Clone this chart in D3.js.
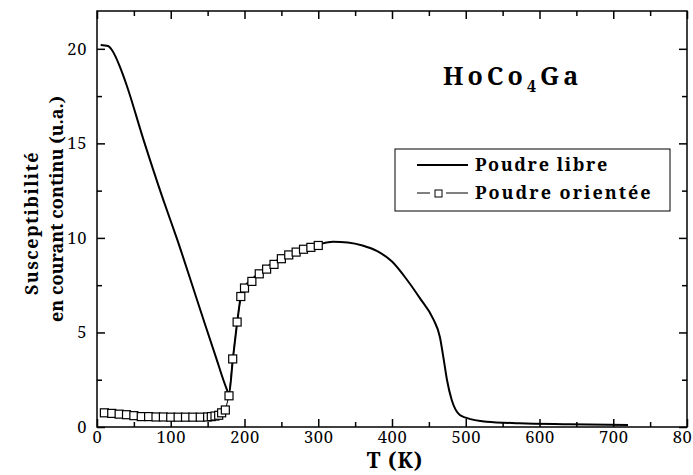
<!DOCTYPE html>
<html><head><meta charset="utf-8">
<script src="https://cdn.jsdelivr.net/npm/d3@7"></script>
<style>body{margin:0;background:#fff}svg{display:block}text{font-family:"Noto Serif",serif}</style>
</head><body>
<svg id="chart" width="693" height="475"></svg>
<script>
// ---- data ----
const libreT = [5,15,20,25,30,35,40,63,90,108,140,162,175,179,184,190,195,200,210,220,230,240,250,260,270,280,290,300,320,340,360,380,400,420,438,456,465,470,474.5,481,492,501,528,573,641,720];
const libreY = [20.2,20.15,19.95,19.6,19.15,18.65,18.1,15.2,12.0,10.0,6.2,3.6,2.1,1.75,3.5,5.5,6.9,7.4,7.8,8.15,8.45,8.7,8.95,9.15,9.3,9.45,9.55,9.65,9.8,9.76,9.6,9.3,8.75,7.8,6.8,5.7,4.75,3.6,2.5,1.43,0.63,0.48,0.28,0.2,0.15,0.1];
const orientT = [10,20,30,40,50,60,70,80,90,100,110,120,130,140,150,155,160,165,169,174,179,184,190,195,200,210,220,230,240,250,260,270,280,290,300];
const orientY = [0.75,0.72,0.68,0.65,0.6,0.55,0.55,0.53,0.53,0.52,0.52,0.52,0.52,0.52,0.53,0.55,0.58,0.62,0.75,0.9,1.65,3.6,5.55,6.9,7.35,7.7,8.1,8.35,8.6,8.9,9.1,9.25,9.4,9.5,9.6];
const xTicks = [0,100,200,300,400,500,600,700,800];
const xMinor = [50,150,250,350,450,550,650,750];
const yTicks = [0,5,10,15,20];
const yMinor = [2.5,7.5,12.5,17.5];
const seriesNames = ["Poudre libre","Poudre orientée"];
const yTitleLines = ["Susceptibilité","en courant continu (u.a.)"];

const FONT = "Noto Serif";
const svg = d3.select("#chart");
const x = d3.scaleLinear().domain([0,800]).range([97,687]);
const y = d3.scaleLinear().domain([0,22]).range([427,11]);
const FS = 16.5, LS = "0.6px";

function styleAxis(g){
  g.attr("font-family",null);
  g.select(".domain").remove();
  g.selectAll("line").attr("stroke","#000").attr("stroke-width",1.5);
  g.selectAll("text").attr("font-size",FS).attr("letter-spacing",LS).attr("fill","#000").style("font-family",FONT);
}
// bottom
svg.append("g").attr("transform",`translate(0,${y(0)})`)
  .call(d3.axisBottom(x).tickValues(xTicks).tickSize(-8).tickPadding(4).tickFormat(d3.format("d"))).call(styleAxis);
svg.append("g").attr("transform",`translate(0,${y(0)})`)
  .call(d3.axisBottom(x).tickValues(xMinor).tickSize(-5).tickFormat("")).call(styleAxis);
// top
svg.append("g").attr("transform",`translate(0,${y(22)})`)
  .call(d3.axisTop(x).tickValues(xTicks).tickSize(-8).tickFormat("")).call(styleAxis);
svg.append("g").attr("transform",`translate(0,${y(22)})`)
  .call(d3.axisTop(x).tickValues(xMinor).tickSize(-5).tickFormat("")).call(styleAxis);
// left
svg.append("g").attr("transform",`translate(${x(0)},0)`)
  .call(d3.axisLeft(y).tickValues(yTicks).tickSize(-8).tickPadding(10).tickFormat(d3.format("d"))).call(styleAxis);
svg.append("g").attr("transform",`translate(${x(0)},0)`)
  .call(d3.axisLeft(y).tickValues(yMinor).tickSize(-5).tickFormat("")).call(styleAxis);
// right
svg.append("g").attr("transform",`translate(${x(800)},0)`)
  .call(d3.axisRight(y).tickValues(yTicks).tickSize(-8).tickFormat("")).call(styleAxis);
svg.append("g").attr("transform",`translate(${x(800)},0)`)
  .call(d3.axisRight(y).tickValues(yMinor).tickSize(-5).tickFormat("")).call(styleAxis);
// frame
svg.append("rect").attr("x",x(0)).attr("y",y(22)).attr("width",x(800)-x(0)).attr("height",y(0)-y(22))
  .attr("fill","none").attr("stroke","#000").attr("stroke-width",1.5);

// lines
const libre = libreT.map((t,i)=>[t,libreY[i]]);
const orient = orientT.map((t,i)=>[t,orientY[i]]);
const line = d3.line().x(d=>x(d[0])).y(d=>y(d[1])).curve(d3.curveMonotoneX);
svg.append("path").datum(libre).attr("d",line).attr("fill","none").attr("stroke","#000").attr("stroke-width",2);
svg.append("path").datum(orient).attr("d",d3.line().x(d=>x(d[0])).y(d=>y(d[1]))).attr("fill","none").attr("stroke","#000").attr("stroke-width",1);
const S = 8;
svg.append("g").selectAll("rect").data(orient).join("rect")
  .attr("x",d=>x(d[0])-S/2).attr("y",d=>y(d[1])-S/2).attr("width",S).attr("height",S)
  .attr("fill","#fff").attr("stroke","#000").attr("stroke-width",1.2);

// legend
svg.append("rect").attr("x",395).attr("y",149).attr("width",275).attr("height",62)
  .attr("fill","#fff").attr("stroke","#000").attr("stroke-width",1);
svg.append("line").attr("x1",417).attr("x2",468).attr("y1",165).attr("y2",165).attr("stroke","#000").attr("stroke-width",2);
svg.append("line").attr("x1",417).attr("x2",430).attr("y1",193).attr("y2",193).attr("stroke","#000").attr("stroke-width",1);
svg.append("line").attr("x1",446).attr("x2",468).attr("y1",193).attr("y2",193).attr("stroke","#000").attr("stroke-width",1);
svg.append("rect").attr("x",435).attr("y",190).attr("width",7).attr("height",7).attr("fill","#fff").attr("stroke","#000").attr("stroke-width",1);
svg.selectAll("text.leg").data(seriesNames).join("text").attr("class","leg")
  .attr("x",475).attr("y",(d,i)=>171+i*28).attr("font-size",18).attr("font-weight","bold").attr("letter-spacing",(d,i)=>i===0?"1.6px":"2px")
  .style("font-family",FONT).text(d=>d);

// title
const t = svg.append("text").attr("x",443).attr("y",85).attr("font-size",25).attr("font-weight","bold").attr("letter-spacing","4px").style("font-family",FONT);
t.append("tspan").text("HoCo");
t.append("tspan").attr("font-size",16).attr("dy",7).text("4");
t.append("tspan").attr("dy",-7).text("Ga");

// axis titles
svg.append("text").attr("x",395).attr("y",468).attr("text-anchor","middle").attr("font-size",21).attr("font-weight","bold").attr("letter-spacing","1px").style("font-family",FONT).text("T (K)");
const yTitlePos = [{cy:223, bx:38, ls:"1.4px"},{cy:209, bx:63, ls:"0px"}];
svg.selectAll("text.ytitle").data(yTitleLines).join("text").attr("class","ytitle")
  .attr("transform",(d,i)=>`translate(${yTitlePos[i].bx},${yTitlePos[i].cy}) rotate(-90)`)
  .attr("text-anchor","middle").attr("font-size",18).attr("font-weight","bold")
  .attr("letter-spacing",(d,i)=>yTitlePos[i].ls).style("font-family",FONT).text(d=>d);
</script>
</body></html>
